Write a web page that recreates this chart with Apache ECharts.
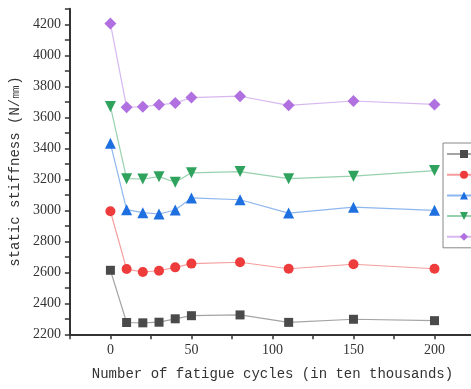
<!DOCTYPE html>
<html><head><meta charset="utf-8">
<script src="https://cdn.jsdelivr.net/npm/echarts@6/dist/echarts.min.js"></script>
<style>html,body{margin:0;padding:0;background:#fff;overflow:hidden}#c{width:640px;height:389px}</style>
</head><body><div id="c"></div>
<script>
const cycles = [0, 10, 20, 30, 40, 50, 80, 110, 150, 200];
const s1 = [2613, 2276, 2274, 2278, 2300, 2320, 2325, 2277, 2297, 2288];
const s2 = [2994, 2621, 2602, 2610, 2632, 2656, 2665, 2623, 2652, 2623];
const s3 = [3432, 3004, 2985, 2976, 3002, 3080, 3068, 2982, 3020, 3000];
const s4 = [3670, 3204, 3202, 3217, 3181, 3242, 3250, 3204, 3220, 3256];
const s5 = [4205, 3665, 3668, 3681, 3692, 3727, 3736, 3677, 3705, 3683];
const names = ['Specimen 1', 'Specimen 2', 'Specimen 3', 'Specimen 4', 'Specimen 5'];
const seriesData = [s1, s2, s3, s4, s5];
const colors = ['#4a4a4a', '#ee3c3c', '#1e6fe0', '#2fa35e', '#b070e0'];
const symbols = ['rect', 'circle', 'triangle', 'path://M0,0 L10,0 L5,9 Z', 'diamond'];
const sizes = [9, 10, 11, 11, 12];

const chart = echarts.init(document.getElementById('c'));
chart.setOption({
  animation: false,
  grid: { left: 68, width: 407, top: 8.8, bottom: 54.7 },
  legend: {
    left: 443, top: 143, orient: 'vertical',
    padding: [5, 5, 5, 3], itemWidth: 34, itemHeight: 10, itemGap: 8.7,
    borderColor: '#888', borderWidth: 1,
    textStyle: { fontSize: 12, color: '#333' },
    data: names
  },
  xAxis: {
    type: 'value', min: -25, max: 225, interval: 25,
    name: 'Number of fatigue cycles (in ten thousands)',
    nameLocation: 'middle', nameGap: 33,
    nameTextStyle: { fontFamily: 'Liberation Mono', fontSize: 14, color: '#333' },
    axisLine: { show: true, onZero: false, lineStyle: { color: '#333', width: 2 } },
    axisTick: { show: true, inside: false, length: 5, lineStyle: { color: '#333', width: 1.5 } },
    axisLabel: {
      margin: 9, fontFamily: 'Liberation Serif', fontSize: 14, color: '#333',
      formatter: function (v) { return (v >= 0 && v <= 200 && v % 50 === 0) ? String(v) : ''; }
    },
    splitLine: { show: false }
  },
  yAxis: {
    type: 'value', min: 2200, max: 4300, interval: 100,
    name: 'static stiffness (N/㎜)',
    nameLocation: 'middle', nameGap: 41,
    nameTextStyle: { fontFamily: 'Liberation Mono', fontSize: 14, color: '#333' },
    axisLine: { show: true, onZero: false, lineStyle: { color: '#333', width: 2 } },
    axisTick: { show: true, length: 5, lineStyle: { color: '#333', width: 1.5 } },
    axisLabel: {
      margin: 9, fontFamily: 'Liberation Serif', fontSize: 14, color: '#333',
      formatter: function (v) { return v % 200 === 0 ? String(v) : ''; }
    },
    splitLine: { show: false }
  },
  series: seriesData.map(function (d, i) {
    return {
      name: names[i], type: 'line',
      data: cycles.map(function (c, j) { return [c, d[j]]; }),
      symbol: symbols[i], symbolSize: sizes[i],
      itemStyle: { color: colors[i] },
      lineStyle: { color: colors[i], width: 1.2, opacity: 0.5 }
    };
  })
});
</script></body></html>
